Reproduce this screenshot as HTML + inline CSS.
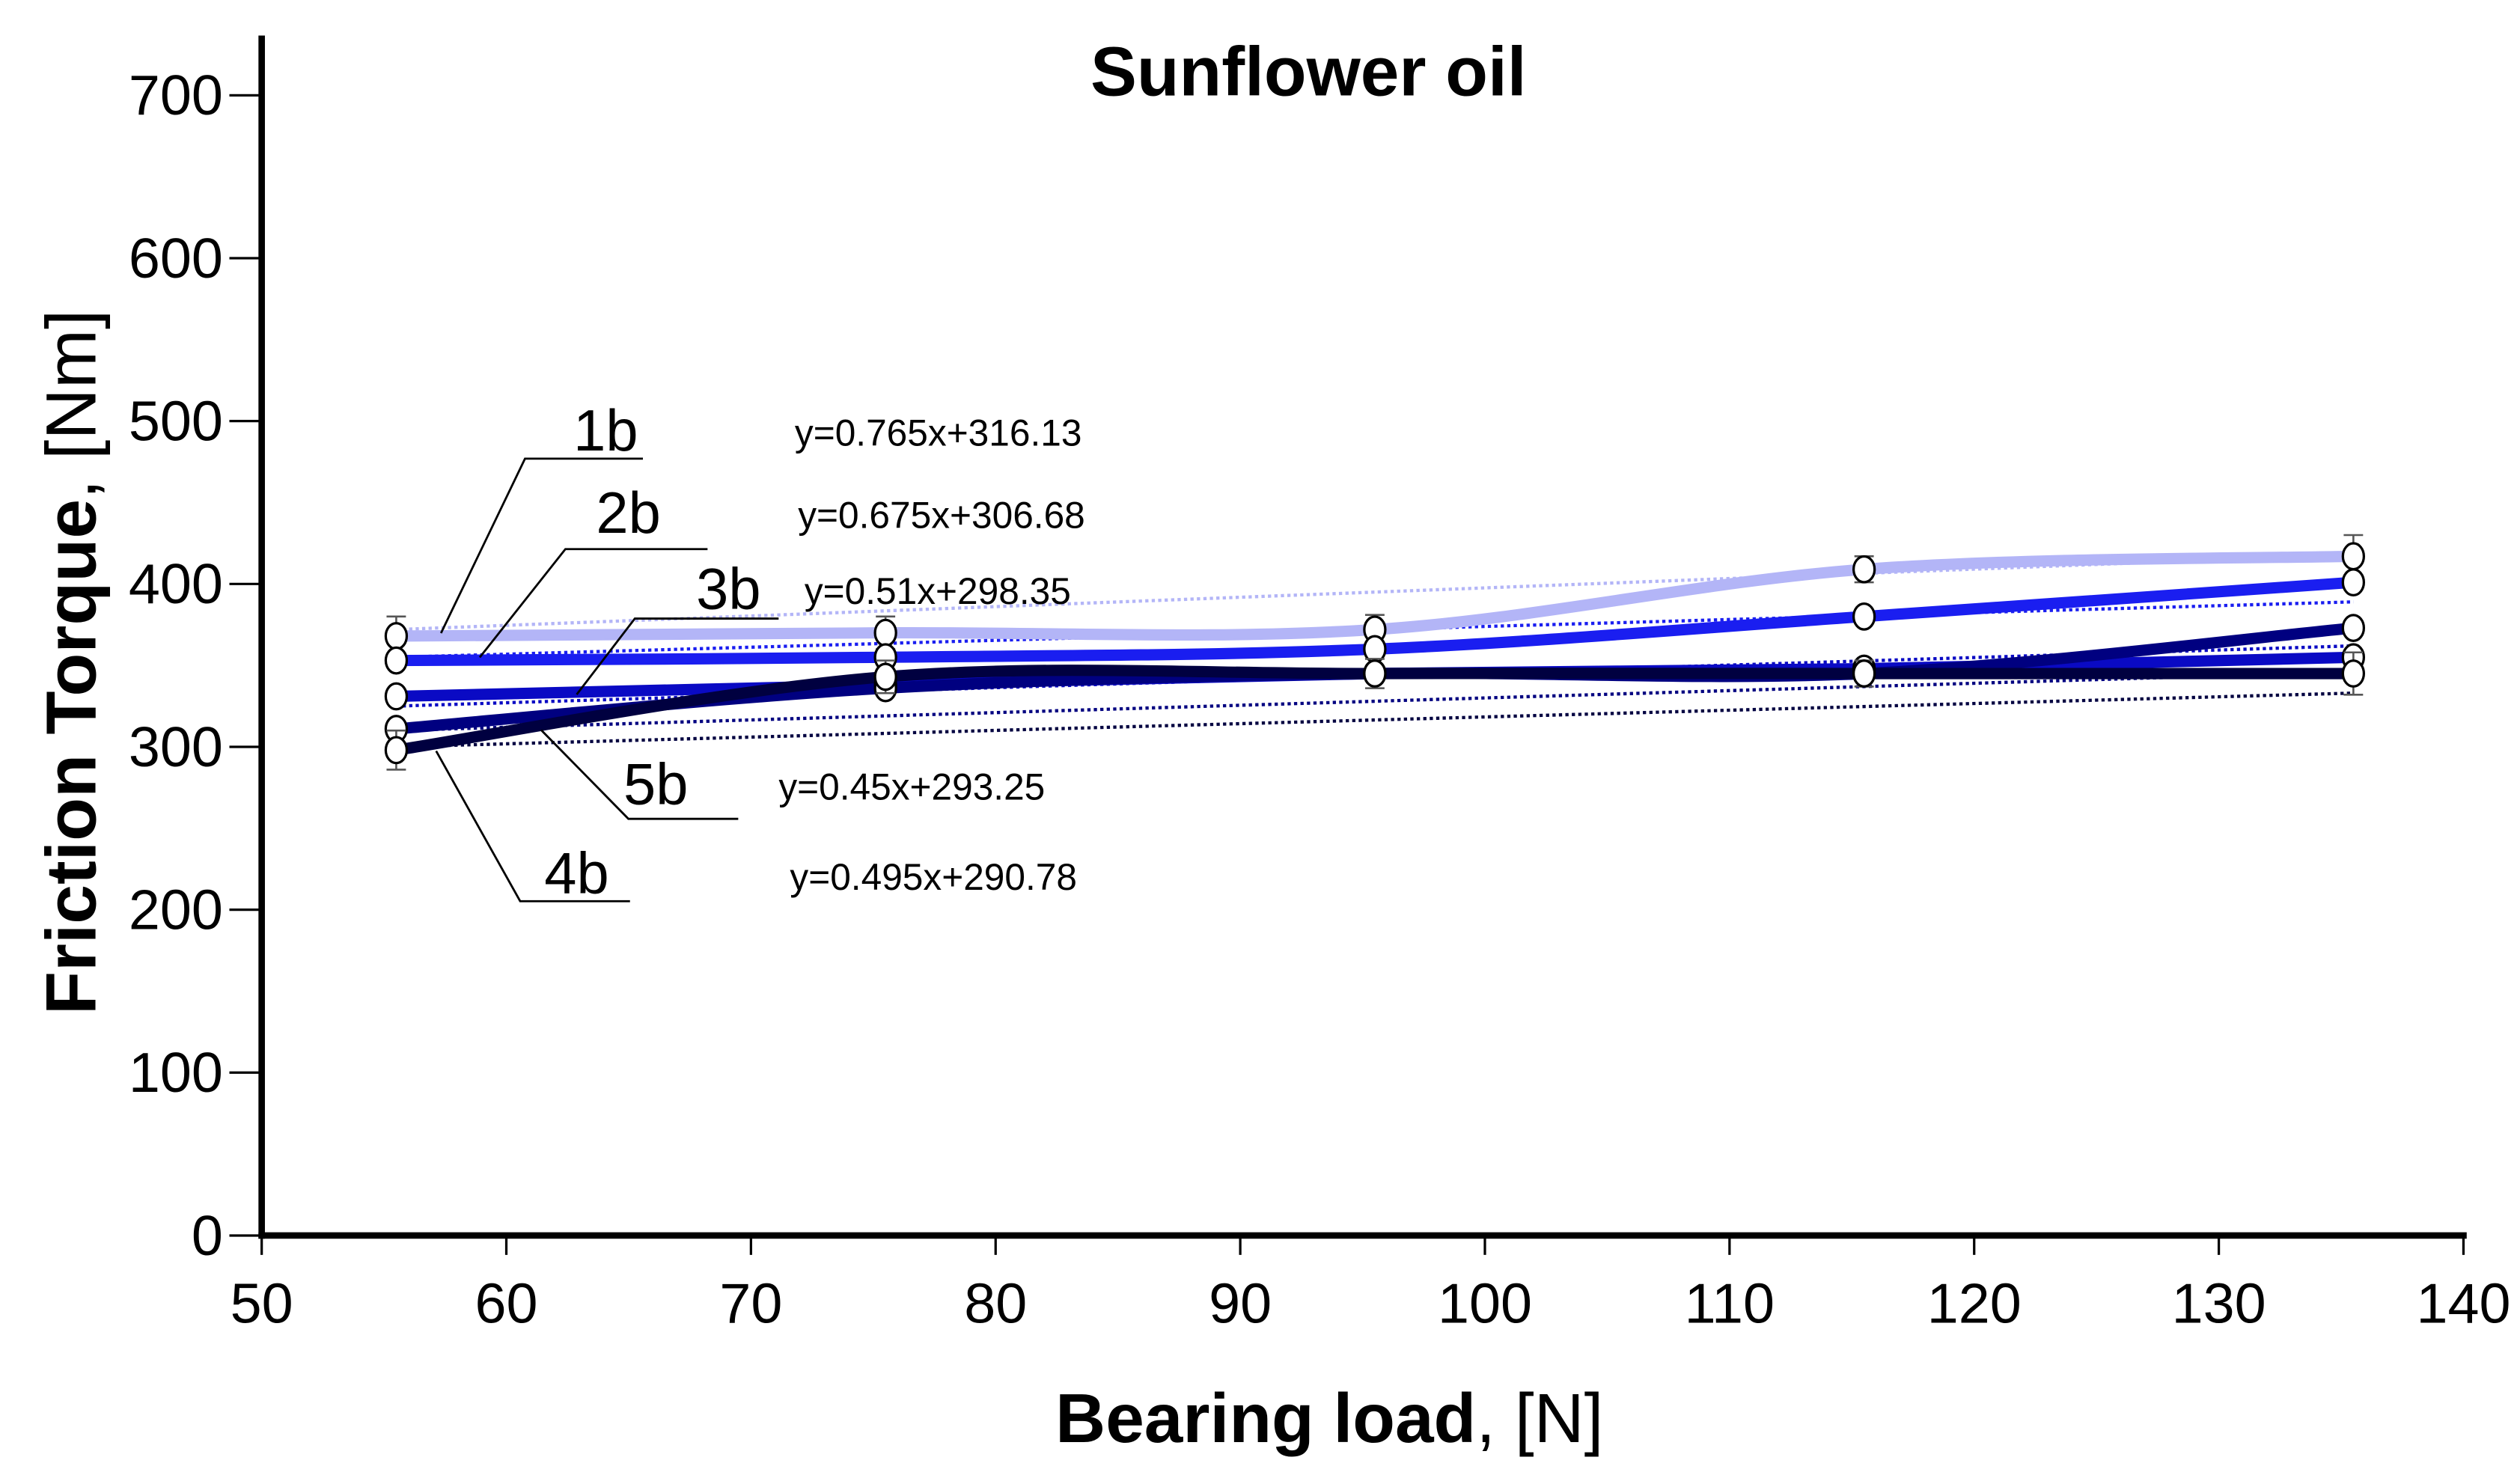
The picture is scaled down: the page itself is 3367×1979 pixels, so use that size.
<!DOCTYPE html>
<html><head><meta charset="utf-8"><style>
html,body{margin:0;padding:0;background:#fff}
svg{display:block}
text{font-family:"Liberation Sans",Arial,sans-serif}
</style></head><body>
<svg id="chart" xmlns="http://www.w3.org/2000/svg" width="3367" height="1979" viewBox="0 0 1560 917" preserveAspectRatio="none">
<text x="810" y="59" font-size="43" font-weight="bold" text-anchor="middle">Sunflower oil</text>
<g id="axes"></g>
<g id="trends"></g>
<g id="series"></g>
<g id="points"></g>
<g id="annot" fill="#000" stroke="none"></g>
<text x="823" y="893" font-size="43" text-anchor="middle"><tspan font-weight="bold">Bearing load</tspan>, [N]</text>
<text transform="translate(59,410) rotate(-90)" font-size="44" text-anchor="middle"><tspan font-weight="bold">Friction Torque</tspan>,  [Nm]</text>
</svg>
<script>
const loads = [55.5, 75.5, 95.5, 115.5, 135.5];
const seriesNames = ["1b","2b","3b","5b","4b"];
const s1b = [368, 370, 372, 409, 417];
const s2b = [353, 355, 360, 380, 401];
const s3b = [331, 338, 345, 348, 355];
const s5b = [311, 336, 345, 345, 373];
const s4b = [298, 343, 345, 345, 345];
const errBars = [12, 10, 9, 8, 13];
const trendStart = [372, 355, 325, 310, 300];
const trendEnd = [418, 389, 362, 346, 333];
const xTicks = [50,60,70,80,90,100,110,120,130,140];
const yTicks = [0,100,200,300,400,500,600,700];
const equations = ["y=0.765x+316.13","y=0.675x+306.68","y=0.51x+298.35","y=0.45x+293.25","y=0.495x+290.78"];

const colors = ["#b3b5f7","#1a1ef0","#0a0ac4","#000080","#000040"];
const X0=162, X1=1525, Y0=765, Y700=59;
const xs = v => X0 + (v-50)*(X1-X0)/90;
const ys = v => Y0 - v*(Y0-Y700)/700;
const NS="http://www.w3.org/2000/svg";
function mk(tag, parent, attrs){const e=document.createElementNS(NS,tag);for(const k in attrs)e.setAttribute(k,attrs[k]);document.getElementById(parent).appendChild(e);return e;}

let e=mk("line","axes",{x1:X0,y1:22,x2:X0,y2:Y0+2,stroke:"#000","stroke-width":4});


e=mk("line","axes",{x1:X0-2,y1:Y0,x2:X1+2,y2:Y0,stroke:"#000","stroke-width":4});


xTicks.forEach(t=>{
  const x=xs(t);
  let l=mk("line","axes",{x1:x,y1:Y0,x2:x,y2:Y0+12,stroke:"#000","stroke-width":1.5});
  
  
  let tx=mk("text","axes",{x:x,y:819,"font-size":35,"text-anchor":"middle"});
  tx.textContent=t;
  
  
});
yTicks.forEach(t=>{
  const y=ys(t);
  let l=mk("line","axes",{x1:X0-20,y1:y,x2:X0,y2:y,stroke:"#000","stroke-width":1.5});
  
  
  let tx=mk("text","axes",{x:X0-24,y:y+12,"font-size":35,"text-anchor":"end"});
  tx.textContent=t;
  
  
});

trendStart.forEach((v,i)=>{
  let l=mk("line","trends",{x1:xs(loads[0]),y1:ys(v),x2:xs(loads[4]),y2:ys(trendEnd[i]),stroke:colors[i],"stroke-width":2,"stroke-dasharray":"2 2"});
  
  
});

function smooth(pts){
  let d="M"+pts[0][0]+","+pts[0][1];
  for(let i=0;i<pts.length-1;i++){
    const p0=pts[i-1]||pts[i],p1=pts[i],p2=pts[i+1],p3=pts[i+2]||p2;
    const c1=[p1[0]+(p2[0]-p0[0])/6,p1[1]+(p2[1]-p0[1])/6];
    const c2=[p2[0]-(p3[0]-p1[0])/6,p2[1]-(p3[1]-p1[1])/6];
    d+=" C"+c1+" "+c2+" "+p2;
  }
  return d;
}
const allSeries=[s1b,s2b,s3b,s5b,s4b];
allSeries.forEach((s,i)=>{
  const pts=s.map((v,j)=>[xs(loads[j]),ys(v)]);
  let p=mk("path","series",{d:smooth(pts),fill:"none",stroke:colors[i],"stroke-width":7,"stroke-linecap":"round"});
  
  
});
allSeries.forEach((s,i)=>{
  s.forEach((v,j)=>{
    const x=xs(loads[j]),y=ys(v);
    if(i===0||i===4){
      const eb=errBars[j], yt=ys(v+eb), yb=ys(v-eb);
      let b=mk("path","points",{d:`M${x},${yt}V${yb}M${x-6},${yt}H${x+6}M${x-6},${yb}H${x+6}`,stroke:"#555","stroke-width":1.2,fill:"none"});
      
      
    }
    let c=mk("ellipse","points",{cx:x,cy:y,rx:6.5,ry:8,fill:"#fff",stroke:"#000","stroke-width":1.5});
    
    
  });
});

const ann=[
 {n:"1b",tx:375,ty:279,u:[325,284,398],tip:[273,392],eq:[492,276]},
 {n:"2b",tx:389,ty:330,u:[350,340,438],tip:[297,407],eq:[494,327]},
 {n:"3b",tx:451,ty:377,u:[393,383,482],tip:[357,430],eq:[498,374]},
 {n:"5b",tx:406,ty:498,u:[389,507,457],tip:[335,452],eq:[482,495]},
 {n:"4b",tx:357,ty:553,u:[322,558,390],tip:[270,465],eq:[489,551]}
];
ann.forEach((a,i)=>{
  let t=mk("text","annot",{x:a.tx,y:a.ty,"font-size":36,"text-anchor":"middle"});
  t.textContent=a.n;
  
  
  let l=mk("path","annot",{d:`M${a.u[2]},${a.u[1]}H${a.u[0]}L${a.tip[0]},${a.tip[1]}`,stroke:"#000","stroke-width":1.3,fill:"none"});
  
  
  let q=mk("text","annot",{x:a.eq[0],y:a.eq[1],"font-size":23});
  q.textContent=equations[i];
  
  
});
</script>
</body></html>
